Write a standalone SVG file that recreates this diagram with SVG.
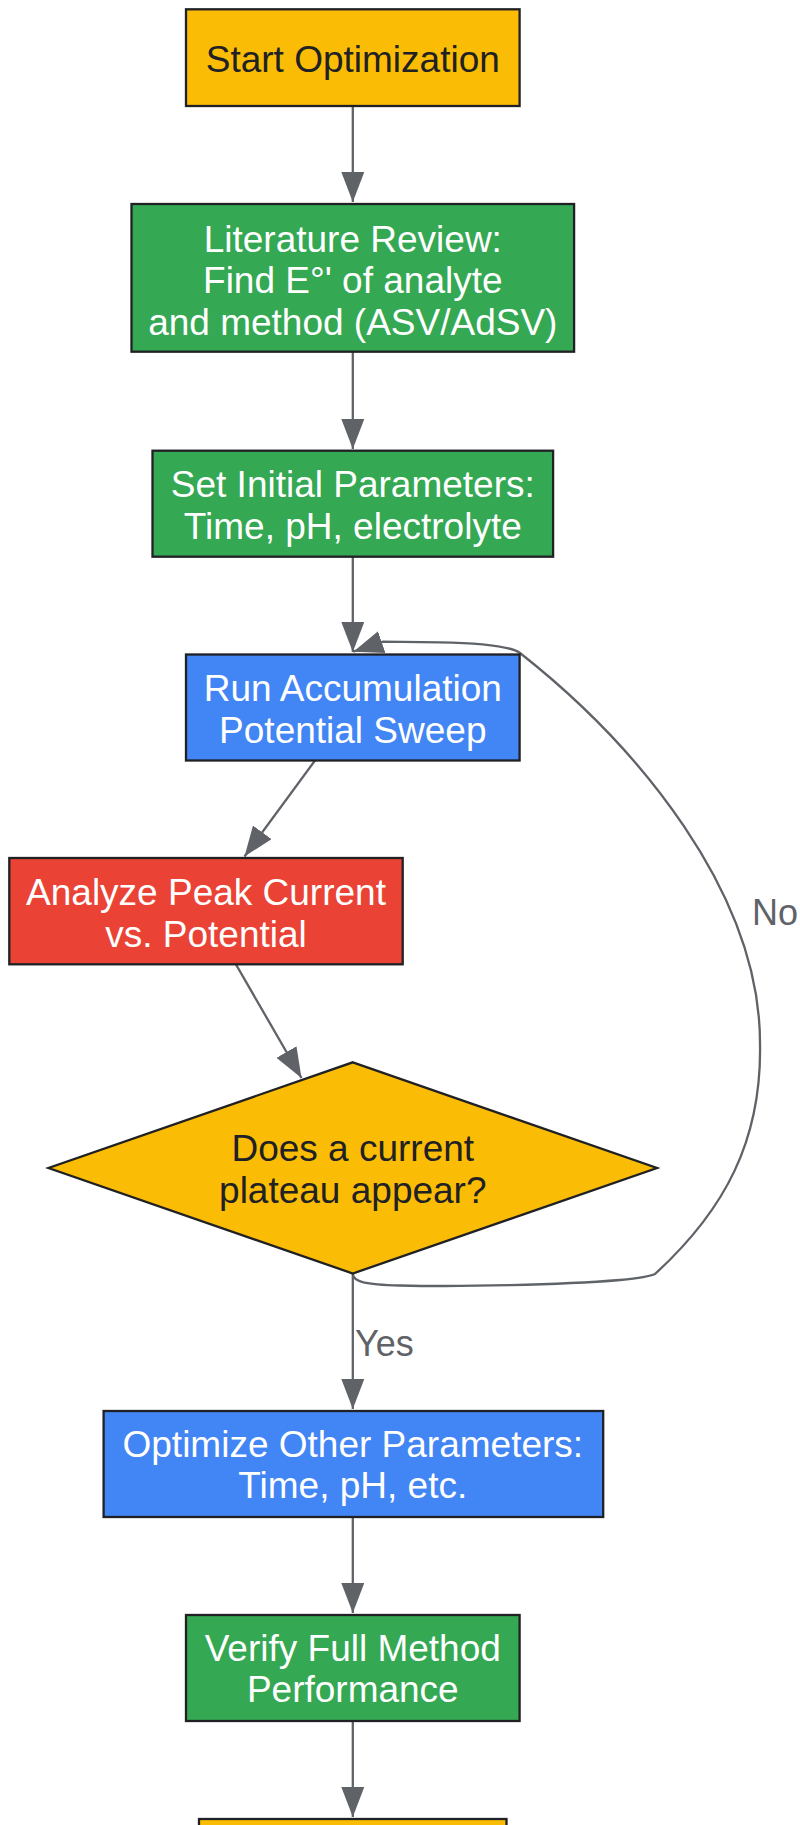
<svg xmlns="http://www.w3.org/2000/svg" width="800" height="1825" viewBox="0 0 800 1825">
<defs>
<style>
.node rect, .node polygon { stroke: #202124; stroke-width: 2.3; }
.t { font-family: "Liberation Sans", Arial, sans-serif; font-size: 37px; text-anchor: middle; }
.w { fill: #ffffff; }
.d { fill: #202124; }
.yellow { fill: #FBBC05; }
.green { fill: #34A853; }
.blue { fill: #4285F4; }
.red { fill: #EA4335; }
.edge { fill: none; stroke: #5f6368; stroke-width: 2.3; }
.lbl { font-family: "Liberation Sans", Arial, sans-serif; font-size: 36px; fill: #5f6368; }
</style>
<marker id="arrow" viewBox="0 0 30 23" refX="30" refY="11.5" markerWidth="30" markerHeight="23" markerUnits="userSpaceOnUse" orient="auto">
<path d="M0,0 L30,11.5 L0,23 z" fill="#5f6368"/>
</marker>
</defs>
<rect width="800" height="1825" fill="#ffffff"/>

<g id="connectors">
<path class="edge" d="M352.8,106 L352.8,202" marker-end="url(#arrow)"/>
<path class="edge" d="M352.8,352 L352.8,449" marker-end="url(#arrow)"/>
<path class="edge" d="M352.8,557 L352.8,652" marker-end="url(#arrow)"/>
<path class="edge" d="M315,760.5 L244.5,856.5" marker-end="url(#arrow)"/>
<path class="edge" d="M236,964.5 L301.5,1078" marker-end="url(#arrow)"/>
<path class="edge" d="M352.8,1273.5 L352.8,1409" marker-end="url(#arrow)"/>
<path class="edge" d="M352.8,1517 L352.8,1613" marker-end="url(#arrow)"/>
<path class="edge" d="M352.8,1721 L352.8,1817" marker-end="url(#arrow)"/>
<path class="edge" d="M352.8,1273.5 C353,1282 365,1284.5 400,1285.5 C460,1287 560,1285 620,1280 C640,1278 650,1276.5 655,1274 C 725,1210 762,1140 760,1043 C 760,893 637.5,745.5 520,653 C 510,646 480,643 440,642.3 L383,641.7 L353.3,651.7" marker-end="url(#arrow)"/>
<text class="lbl" x="752" y="925">No</text>
<text class="lbl" x="355" y="1356">Yes</text>
</g>

<g id="start" class="node">
<rect class="yellow" x="186" y="9.3" width="333.6" height="96.7"/>
<text class="t d" x="352.8" y="72.3">Start Optimization</text>
</g>

<g id="literature" class="node">
<rect class="green" x="131.5" y="204" width="442.6" height="147.7"/>
<text class="t w" x="352.8" y="251.7">Literature Review:</text>
<text class="t w" x="352.8" y="293.3">Find E°' of analyte</text>
<text class="t w" x="352.8" y="335">and method (ASV/AdSV)</text>
</g>

<g id="setparams" class="node">
<rect class="green" x="152.5" y="450.7" width="400.6" height="106"/>
<text class="t w" x="352.8" y="497">Set Initial Parameters:</text>
<text class="t w" x="352.8" y="538.5">Time, pH, electrolyte</text>
</g>

<g id="run" class="node">
<rect class="blue" x="186" y="654.5" width="333.6" height="106"/>
<text class="t w" x="352.8" y="701">Run Accumulation</text>
<text class="t w" x="352.8" y="742.5">Potential Sweep</text>
</g>

<g id="analyze" class="node">
<rect class="red" x="9.3" y="858" width="393.4" height="106.3"/>
<text class="t w" x="206" y="904.5">Analyze Peak Current</text>
<text class="t w" x="206" y="946.5">vs. Potential</text>
</g>

<g id="decision" class="node">
<polygon class="yellow" points="352.8,1062.3 657,1168 352.8,1273.5 48.5,1168"/>
<text class="t d" x="352.8" y="1161">Does a current</text>
<text class="t d" x="352.8" y="1202.5">plateau appear?</text>
</g>

<g id="optimize" class="node">
<rect class="blue" x="103.6" y="1411" width="499.6" height="106"/>
<text class="t w" x="352.8" y="1456.5">Optimize Other Parameters:</text>
<text class="t w" x="352.8" y="1498.3">Time, pH, etc.</text>
</g>

<g id="verify" class="node">
<rect class="green" x="186" y="1615" width="333.6" height="106"/>
<text class="t w" x="352.8" y="1661">Verify Full Method</text>
<text class="t w" x="352.8" y="1702.3">Performance</text>
</g>

<g id="end" class="node">
<rect class="yellow" x="199" y="1819" width="307.5" height="106"/>
</g>
</svg>
